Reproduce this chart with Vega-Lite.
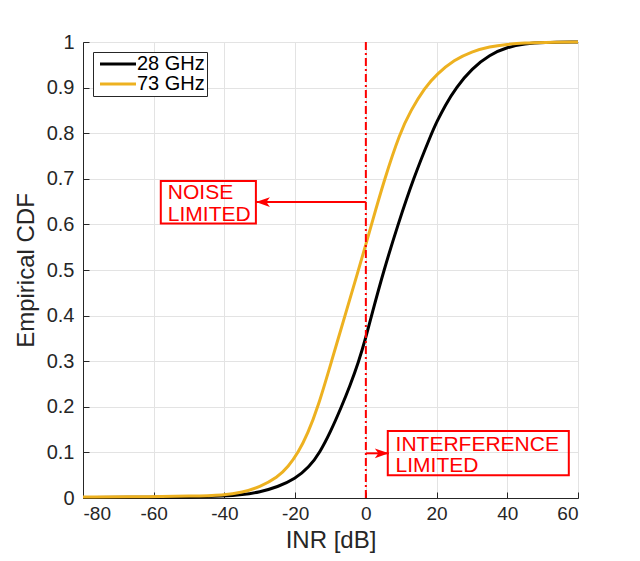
{
  "$schema": "https://vega.github.io/schema/vega-lite/v6.json",
  "width": 495,
  "height": 456,
  "autosize": {"type": "none"},
  "padding": {"left": 83, "top": 42, "right": 62, "bottom": 63},
  "background": "white",
  "config": {
    "view": {"stroke": "#262626", "strokeWidth": 1},
    "font": "Liberation Sans",
    "axis": {
      "grid": true,
      "gridColor": "#e3e3e3",
      "gridWidth": 1,
      "domainColor": "#262626",
      "tickColor": "#262626",
      "tickSize": -6,
      "labelFont": "Liberation Sans",
      "labelFontSize": 20,
      "labelColor": "#262626",
      "titleFont": "Liberation Sans",
      "titleFontSize": 24,
      "titleFontWeight": "normal",
      "titleColor": "#262626"
    },
    "legend": {
      "orient": "none",
      "legendX": 10,
      "legendY": 10,
      "title": null,
      "symbolType": "M-1,0H6.2",
      "symbolSize": 100,
      "symbolStrokeWidth": 3,
      "labelFont": "Liberation Sans",
      "labelFontSize": 20,
      "labelColor": "#000000",
      "labelOffset": 22,
      "rowPadding": 0,
      "padding": 2,
      "strokeColor": "#262626",
      "fillColor": "white"
    }
  },
  "datasets": {
    "cdf": [
      {"band": "28 GHz", "inr": -80, "cdf": 0.001},
      {"band": "28 GHz", "inr": -60, "cdf": 0.002},
      {"band": "28 GHz", "inr": -50, "cdf": 0.002},
      {"band": "28 GHz", "inr": -40, "cdf": 0.004},
      {"band": "28 GHz", "inr": -35, "cdf": 0.007},
      {"band": "28 GHz", "inr": -30, "cdf": 0.013},
      {"band": "28 GHz", "inr": -25, "cdf": 0.024},
      {"band": "28 GHz", "inr": -20, "cdf": 0.042},
      {"band": "28 GHz", "inr": -16, "cdf": 0.068},
      {"band": "28 GHz", "inr": -13, "cdf": 0.1},
      {"band": "28 GHz", "inr": -10, "cdf": 0.145},
      {"band": "28 GHz", "inr": -6.9, "cdf": 0.2},
      {"band": "28 GHz", "inr": -4.5, "cdf": 0.246},
      {"band": "28 GHz", "inr": -2.1, "cdf": 0.297},
      {"band": "28 GHz", "inr": 0, "cdf": 0.352},
      {"band": "28 GHz", "inr": 1.6, "cdf": 0.4},
      {"band": "28 GHz", "inr": 5.1, "cdf": 0.5},
      {"band": "28 GHz", "inr": 9.1, "cdf": 0.6},
      {"band": "28 GHz", "inr": 13.4, "cdf": 0.7},
      {"band": "28 GHz", "inr": 18.6, "cdf": 0.8},
      {"band": "28 GHz", "inr": 20, "cdf": 0.824},
      {"band": "28 GHz", "inr": 22.5, "cdf": 0.862},
      {"band": "28 GHz", "inr": 25.5, "cdf": 0.9},
      {"band": "28 GHz", "inr": 30, "cdf": 0.942},
      {"band": "28 GHz", "inr": 35, "cdf": 0.972},
      {"band": "28 GHz", "inr": 40, "cdf": 0.989},
      {"band": "28 GHz", "inr": 45, "cdf": 0.996},
      {"band": "28 GHz", "inr": 50, "cdf": 0.999},
      {"band": "28 GHz", "inr": 60, "cdf": 1},
      {"band": "73 GHz", "inr": -80, "cdf": 0.002},
      {"band": "73 GHz", "inr": -60, "cdf": 0.003},
      {"band": "73 GHz", "inr": -50, "cdf": 0.004},
      {"band": "73 GHz", "inr": -40, "cdf": 0.006},
      {"band": "73 GHz", "inr": -35, "cdf": 0.012},
      {"band": "73 GHz", "inr": -30, "cdf": 0.024},
      {"band": "73 GHz", "inr": -25, "cdf": 0.045},
      {"band": "73 GHz", "inr": -22, "cdf": 0.068},
      {"band": "73 GHz", "inr": -19.1, "cdf": 0.1},
      {"band": "73 GHz", "inr": -16.5, "cdf": 0.14},
      {"band": "73 GHz", "inr": -13.5, "cdf": 0.2},
      {"band": "73 GHz", "inr": -9.7, "cdf": 0.3},
      {"band": "73 GHz", "inr": -5.9, "cdf": 0.4},
      {"band": "73 GHz", "inr": -2.1, "cdf": 0.5},
      {"band": "73 GHz", "inr": 0, "cdf": 0.556},
      {"band": "73 GHz", "inr": 1.6, "cdf": 0.6},
      {"band": "73 GHz", "inr": 5.3, "cdf": 0.7},
      {"band": "73 GHz", "inr": 9.6, "cdf": 0.8},
      {"band": "73 GHz", "inr": 12.7, "cdf": 0.85},
      {"band": "73 GHz", "inr": 16.7, "cdf": 0.9},
      {"band": "73 GHz", "inr": 20, "cdf": 0.929},
      {"band": "73 GHz", "inr": 25, "cdf": 0.961},
      {"band": "73 GHz", "inr": 30, "cdf": 0.979},
      {"band": "73 GHz", "inr": 35, "cdf": 0.99},
      {"band": "73 GHz", "inr": 40, "cdf": 0.995},
      {"band": "73 GHz", "inr": 45, "cdf": 0.998},
      {"band": "73 GHz", "inr": 50, "cdf": 0.999},
      {"band": "73 GHz", "inr": 60, "cdf": 1}
    ],
    "boxes": [
      {"inr": -58, "inr2": -31.1, "cdf": 0.695, "cdf2": 0.602},
      {"inr": 6.2, "inr2": 57.4, "cdf": 0.147, "cdf2": 0.05}
    ],
    "labels": [
      {"inr": -56, "cdf": 0.655, "text": "NOISE"},
      {"inr": -56, "cdf": 0.607, "text": "LIMITED"},
      {"inr": 8.4, "cdf": 0.103, "text": "INTERFERENCE"},
      {"inr": 8.4, "cdf": 0.056, "text": "LIMITED"}
    ],
    "arrows": [
      {"inr": 0, "inr2": -31.1, "cdf": 0.649, "dir": "left"},
      {"inr": 0, "inr2": 6.5, "cdf": 0.098, "dir": "right"}
    ],
    "zero": [
      {"inr": 0}
    ]
  },
  "layer": [
    {
      "data": {"name": "cdf"},
      "mark": {"type": "line", "strokeWidth": 3, "interpolate": "basis"},
      "encoding": {
        "x": {
          "field": "inr", "type": "quantitative", "title": "INR [dB]",
          "scale": {"domain": [-80, 60], "nice": false},
          "axis": {"values": [-80, -60, -40, -20, 0, 20, 40, 60], "labelExpr": "replace(datum.label, '−', '-')", "labelPadding": 12, "labelFontSize": 19, "titlePadding": 5}
        },
        "y": {
          "field": "cdf", "type": "quantitative", "title": "Empirical CDF",
          "scale": {"domain": [0, 1], "nice": false},
          "axis": {"values": [0, 0.1, 0.2, 0.3, 0.4, 0.5, 0.6, 0.7, 0.8, 0.9, 1], "format": "~g", "labelPadding": 15, "titlePadding": 8}
        },
        "color": {
          "field": "band", "type": "nominal",
          "scale": {"domain": ["28 GHz", "73 GHz"], "range": ["#000000", "#EDB120"]}
        }
      }
    },
    {
      "data": {"name": "zero"},
      "mark": {"type": "rule", "color": "#ff0000", "strokeWidth": 2, "strokeDash": [8, 3, 2, 3]},
      "encoding": {"x": {"field": "inr", "type": "quantitative"}}
    },
    {
      "data": {"name": "arrows"},
      "mark": {"type": "rule", "color": "#ff0000", "strokeWidth": 2},
      "encoding": {
        "x": {"field": "inr", "type": "quantitative"},
        "x2": {"field": "inr2"},
        "y": {"field": "cdf", "type": "quantitative"}
      }
    },
    {
      "data": {"name": "arrows"},
      "mark": {"type": "point", "filled": true, "color": "#ff0000", "opacity": 1, "size": 196},
      "encoding": {
        "x": {"field": "inr2", "type": "quantitative"},
        "y": {"field": "cdf", "type": "quantitative"},
        "shape": {
          "field": "dir", "type": "nominal", "legend": null,
          "scale": {"domain": ["left", "right"], "range": ["M0,0L2,-0.7L1.5,0L2,0.7Z", "M0,0L-2,-0.7L-1.5,0L-2,0.7Z"]}
        }
      }
    },
    {
      "data": {"name": "boxes"},
      "mark": {"type": "rect", "fill": null, "fillOpacity": 0, "stroke": "#ff0000", "strokeWidth": 2},
      "encoding": {
        "x": {"field": "inr", "type": "quantitative"},
        "x2": {"field": "inr2"},
        "y": {"field": "cdf", "type": "quantitative"},
        "y2": {"field": "cdf2"}
      }
    },
    {
      "data": {"name": "labels"},
      "mark": {"type": "text", "align": "left", "baseline": "alphabetic", "color": "#ff0000", "fontSize": 21, "font": "Liberation Sans"},
      "encoding": {
        "x": {"field": "inr", "type": "quantitative"},
        "y": {"field": "cdf", "type": "quantitative"},
        "text": {"field": "text"}
      }
    }
  ]
}
